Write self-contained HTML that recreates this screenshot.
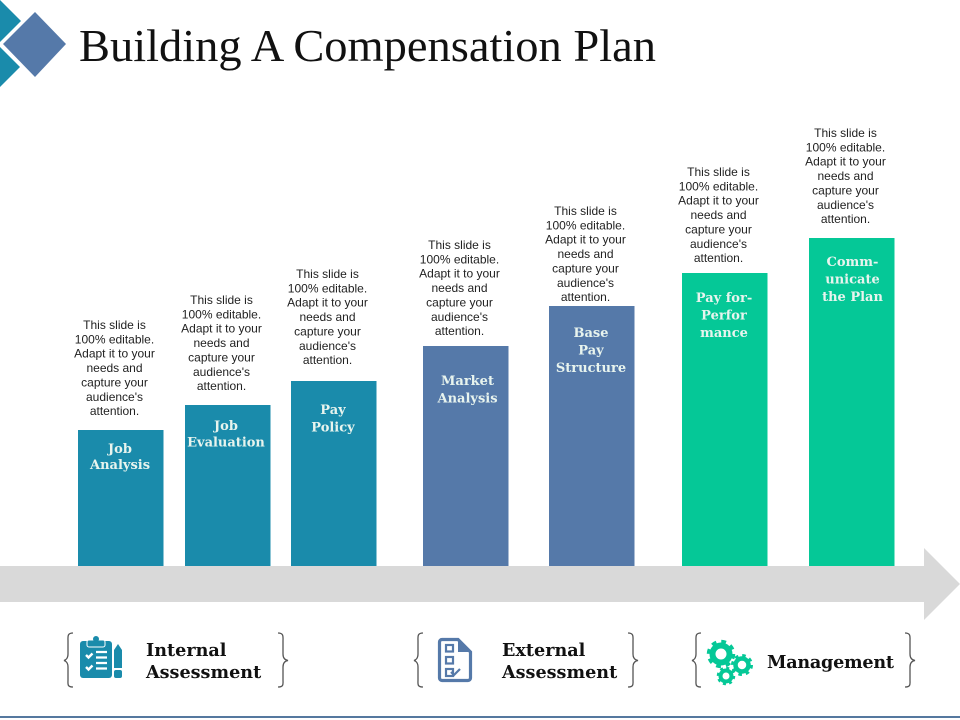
<!DOCTYPE html>
<html lang="en">
<head>
<meta charset="utf-8">
<title>Building A Compensation Plan</title>
<style>
html,body{margin:0;padding:0;background:#fff;width:960px;height:720px;overflow:hidden}
svg{display:block}
.desc{font:12px "Liberation Sans",sans-serif;fill:#222;text-anchor:middle}
.lab{font:bold 13px "DejaVu Serif",serif;fill:#e8f4ee;text-anchor:middle}
.grp{font:bold 17.6px "DejaVu Serif",serif;fill:#111}
</style>
</head>
<body>
<svg id="chart" width="960" height="720" viewBox="0 0 960 720" xmlns="http://www.w3.org/2000/svg">
  <polygon points="0,0 21,21 0,42" fill="#1a8bab"/>
  <polygon points="0,47 20,67 0,87" fill="#1a8bab"/>
  <polygon points="35,12 66,44 35,77 3,44" fill="#5579a9"/>
  <text x="79" y="61" font-family="Liberation Serif, serif" font-size="46" fill="#111" textLength="577" lengthAdjust="spacingAndGlyphs">Building A Compensation Plan</text>

  <g id="bars"></g>

  <polygon points="0,566 924,566 924,548 960,584 924,620 924,602 0,602" fill="#d9d9d9"/>

  <g>
    <path d="M73 633 C67 633 68 637 68 641 L68 654 C68 658 66 660 64 660.500 C66 661 68 663 68 667 L68 680 C68 684 67 687 73 687" fill="none" stroke="#555" stroke-width="1.300"/>
    <path d="M278 633 C284 633 283 637 283 641 L283 654 C283 658 285 660 288 660.500 C285 661 283 663 283 667 L283 680 C283 684 284 687 278 687" fill="none" stroke="#555" stroke-width="1.300"/>
    <g>
      <rect x="80" y="641" width="32" height="37" rx="3" fill="#1a8bab"/>
      <rect x="87" y="640" width="18" height="7" rx="2" fill="#1a8bab" stroke="#fff" stroke-width="1"/>
      <circle cx="96" cy="639" r="3" fill="#1a8bab"/>
      <path d="M86 655l2.500 2.500 4-4M86 667l2.500 2.500 4-4" fill="none" stroke="#fff" stroke-width="2.400"/>
      <path d="M96 652h11M96 657.500h11M96 663h11M96 668.500h11" stroke="#fff" stroke-width="2.200"/>
      <path d="M114 650l4-6 4 6v18h-8z" fill="#1a8bab"/>
      <rect x="114" y="670" width="8" height="8" rx="2" fill="#1a8bab"/>
    </g>
    <text class="grp"><tspan x="146" y="656">Internal</tspan><tspan x="146" y="678">Assessment</tspan></text>
  </g>

  <g>
    <path d="M423 633 C417 633 418 637 418 641 L418 654 C418 658 416 660 414 660.500 C416 661 418 663 418 667 L418 680 C418 684 417 687 423 687" fill="none" stroke="#555" stroke-width="1.300"/>
    <path d="M628 633 C634 633 633 637 633 641 L633 654 C633 658 635 660 638 660.500 C635 661 633 663 633 667 L633 680 C633 684 634 687 628 687" fill="none" stroke="#555" stroke-width="1.300"/>
    <g fill="none" stroke="#5579a9">
      <path d="M442 639.500h16l12.500 12.500v26a2.500 2.500 0 0 1-2.500 2.500h-26a2.500 2.500 0 0 1-2.500-2.500v-36a2.500 2.500 0 0 1 2.500-2.500z" stroke-width="3.200"/>
      <path d="M458 638l14 14h-14z" fill="#5579a9" stroke="none"/>
      <rect x="446" y="645" width="7" height="6.500" stroke-width="2.200"/>
      <rect x="446" y="657" width="7" height="6.500" stroke-width="2.200"/>
      <rect x="446" y="669" width="7" height="7" stroke-width="2.200"/>
      <path d="M451 672l3 3 6-6" stroke-width="2.200"/>
    </g>
    <text class="grp"><tspan x="502" y="656">External</tspan><tspan x="502" y="678">Assessment</tspan></text>
  </g>

  <g>
    <path d="M701 633 C695 633 696 637 696 641 L696 654 C696 658 694 660 692 660.500 C694 661 696 663 696 667 L696 680 C696 684 695 687 701 687" fill="none" stroke="#555" stroke-width="1.300"/>
    <path d="M905 633 C911 633 910 637 910 641 L910 654 C910 658 912 660 915 660.500 C912 661 910 663 910 667 L910 680 C910 684 911 687 905 687" fill="none" stroke="#555" stroke-width="1.300"/>
    <g fill="none" stroke="#05c897">
      <circle cx="721" cy="654" r="8.500" stroke-width="6"/>
      <circle cx="721" cy="654" r="12.500" stroke-width="3.500" stroke-dasharray="4.800 5"/>
      <circle cx="742" cy="665" r="6.500" stroke-width="4.500"/>
      <circle cx="742" cy="665" r="9.500" stroke-width="3" stroke-dasharray="3.500 3.950"/>
      <circle cx="726" cy="676" r="5.500" stroke-width="4"/>
      <circle cx="726" cy="676" r="8" stroke-width="2.500" stroke-dasharray="3 3.280"/>
    </g>
    <text class="grp" x="767" y="668" textLength="127" lengthAdjust="spacing">Management</text>
  </g>

  <rect x="0" y="716" width="960" height="2" fill="#55789f"/>
</svg>
<script>
var categories = ['Job Analysis', 'Job Evaluation', 'Pay Policy', 'Market Analysis', 'Base Pay Structure', 'Pay for-Perfor mance', 'Comm-unicate the Plan'];
var labelLines = [['Job', 'Analysis'], ['Job', 'Evaluation'], ['Pay', 'Policy'], ['Market', 'Analysis'], ['Base', 'Pay', 'Structure'], ['Pay for-', 'Perfor', 'mance'], ['Comm-', 'unicate', 'the Plan']];
var barValues = [136, 161, 185, 220, 260, 293, 328];
var barGroups = ['internal', 'internal', 'internal', 'external', 'external', 'management', 'management'];
var descriptionLines = ['This slide is', '100% editable.', 'Adapt it to your', 'needs and', 'capture your', "audience's", 'attention.'];

var SVG_NS = 'http://www.w3.org/2000/svg';
var BASELINE = 566;
var BAR_WIDTH = 85.5;
var GROUP_LAYOUT = { internal: { start: 78, step: 106.5 }, external: { start: 423, step: 126 }, management: { start: 682, step: 127 } };
var LABEL_INSET = { 0: 23, 1: 25, 2: 33, 3: 39, 4: 31, 5: 29, 6: 28 };
var LABEL_GAP = { 0: 16, 1: 16.5, 2: 17.5, 3: 17.5, 4: 17.5, 5: 17.5, 6: 17.5 };
var LABEL_SHIFT = { 0: -0.5, 1: -1.5, 2: -0.5, 3: 2, 4: -0.5, 5: -0.5, 6: 1 };
var DESC_RISE = { 0: 101, 1: 101, 2: 103, 3: 97, 4: 91, 5: 97, 6: 101 };

function yScale(v) { return BASELINE - v; }
function xScale(i) {
  var g = barGroups[i];
  var pos = barGroups.slice(0, i).filter(function (x) { return x === g; }).length;
  return GROUP_LAYOUT[g].start + pos * GROUP_LAYOUT[g].step;
}
var groupColor = { internal: '#1a8bab', external: '#5579a9', management: '#05c897' };
var barsLayer = document.getElementById('bars');

barValues.forEach(function (v, i) {
  var x = Math.round(xScale(i));
  var top = yScale(v);
  var cx = x + 42.5;

  var rect = document.createElementNS(SVG_NS, 'rect');
  
  
  rect.setAttribute('x', x);
  rect.setAttribute('y', top);
  rect.setAttribute('width', BAR_WIDTH);
  rect.setAttribute('height', BASELINE - top);
  rect.setAttribute('fill', groupColor[barGroups[i]]);
  barsLayer.appendChild(rect);

  var label = document.createElementNS(SVG_NS, 'text');
  
  
  label.setAttribute('class', 'lab');
  labelLines[i].forEach(function (line, k) {
    var span = document.createElementNS(SVG_NS, 'tspan');
    span.setAttribute('x', cx + LABEL_SHIFT[i]);
    span.setAttribute('y', top + LABEL_INSET[i] + k * LABEL_GAP[i]);
    span.textContent = line;
    label.appendChild(span);
  });
  barsLayer.appendChild(label);

  var desc = document.createElementNS(SVG_NS, 'text');
  
  
  desc.setAttribute('class', 'desc');
  descriptionLines.forEach(function (line, k) {
    var span = document.createElementNS(SVG_NS, 'tspan');
    span.setAttribute('x', cx - 6);
    span.setAttribute('y', top - DESC_RISE[i] + k * 14.35);
    span.textContent = line;
    desc.appendChild(span);
  });
  barsLayer.appendChild(desc);
});
</script>
</body>
</html>
